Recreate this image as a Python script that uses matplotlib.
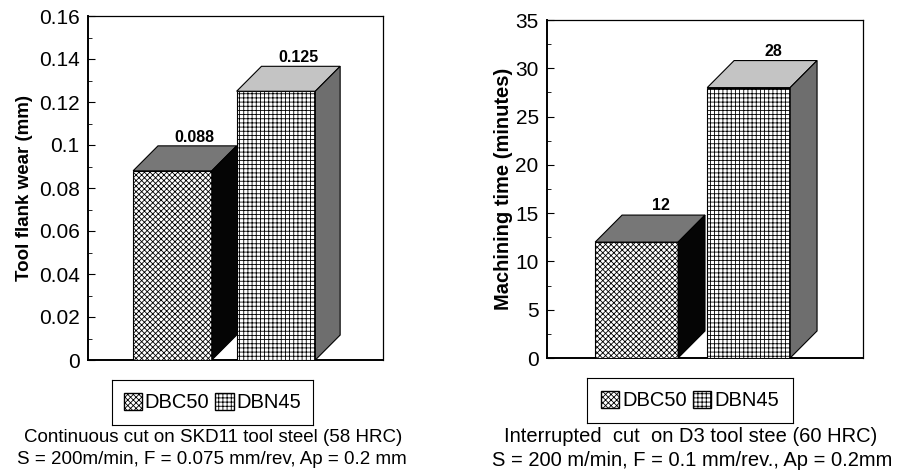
import numpy as np
import matplotlib.pyplot as plt
from matplotlib.patches import Polygon, Patch

plt.rcParams['font.family'] = ['Liberation Sans', 'DejaVu Sans']
plt.rcParams['hatch.linewidth'] = 0.6

# donnees
materials = ["DBC50", "DBN45"]
wear_mm = [0.088, 0.125]
wear_labels = ["0.088", "0.125"]
time_min = [12, 28]
time_labels = ["12", "28"]

left_ticks = [0, 0.02, 0.04, 0.06, 0.08, 0.1, 0.12, 0.14, 0.16]
left_ticklabels = ["0", "0.02", "0.04", "0.06", "0.08", "0.1", "0.12", "0.14", "0.16"]
right_ticks = [0, 5, 10, 15, 20, 25, 30, 35]

hatches = ["xxxxxx", "++++"]
top_colors = ["#777777", "#c4c4c4"]
side_colors = ["#050505", "#6e6e6e"]

W, H = 898, 472


def px_axes(fig, x0, x1, ytop, ybot):
    return fig.add_axes([x0 / W, (H - ybot) / H, (x1 - x0) / W, (ybot - ytop) / H])


def bars_3d(ax, values, labels, width, dx, dy, label_dy):
    xs = np.arange(len(values))
    for i, (x, v) in enumerate(zip(xs, values)):
        l, r = x - width / 2, x + width / 2
        ax.bar(x, v, width, color="white", edgecolor="black", hatch=hatches[i],
               linewidth=0.8, zorder=3)
        top = Polygon([(l, v), (r, v), (r + dx, v + dy), (l + dx, v + dy)],
                      closed=True, facecolor=top_colors[i], edgecolor="black",
                      linewidth=0.8, zorder=3)
        side = Polygon([(r, 0), (r + dx, dy), (r + dx, v + dy), (r, v)],
                       closed=True, facecolor=side_colors[i], edgecolor="black",
                       linewidth=0.8, zorder=3)
        ax.add_patch(top)
        ax.add_patch(side)
        ax.text(x + dx * 0.9, v + dy + label_dy, labels[i], ha="center", va="bottom",
                fontsize=11.5, fontweight="bold")


def style_axes(ax):
    ax.set_xticks([])
    ax.tick_params(axis="y", direction="in", length=5, labelsize=15, pad=6)
    ax.tick_params(axis="y", which="minor", direction="in", length=3)
    for s in ax.spines.values():
        s.set_linewidth(0.9)
    ax.spines["left"].set_linewidth(1.4)
    ax.spines["bottom"].set_linewidth(1.4)


def legend_box(fig, x0, x1, ytop, ybot):
    handles = [Patch(facecolor="white", edgecolor="black", hatch=hatches[i], label=m)
               for i, m in enumerate(materials)]
    lax = px_axes(fig, x0, x1, ytop, ybot)
    lax.set_xticks([])
    lax.set_yticks([])
    lax.patch.set_alpha(0)
    lax.legend(handles=handles, loc="center", ncol=2, frameon=False,
               fontsize=14.5, handlelength=0.9, handleheight=0.9,
               handletextpad=0.15, columnspacing=0.3)
    return lax


fig = plt.figure(figsize=(W / 100, H / 100), dpi=100)

# panneau gauche : usure
ax1 = px_axes(fig, 88, 383, 16, 360)
ax1.set_xlim(-0.816, 2.034)
ax1.set_ylim(0, 0.16)
ax1.set_yticks(left_ticks)
ax1.set_yticklabels(left_ticklabels)
ax1.set_yticks(np.arange(0.01, 0.16, 0.02), minor=True)
bars_3d(ax1, wear_mm, wear_labels, 0.76, 0.24, 0.0116, 0.0006)
style_axes(ax1)
ax1.set_ylabel("Tool flank wear (mm)", fontsize=13.5, fontweight="bold", labelpad=4)
legend_box(fig, 112, 313, 380, 425)
fig.text(213 / W, 1 - 437 / H, "Continuous cut on SKD11 tool steel (58 HRC)",
         ha="center", va="center", fontsize=13.5)
fig.text(212 / W, 1 - 460 / H, "S = 200m/min, F = 0.075 mm/rev, Ap = 0.2 mm",
         ha="center", va="center", fontsize=13.5)

# panneau droit : temps d'usinage
ax2 = px_axes(fig, 547, 863, 20, 358)
ax2.set_xlim(-0.80, 2.02)
ax2.set_ylim(0, 35)
ax2.set_yticks(right_ticks)
ax2.set_yticks(np.arange(2.5, 35, 5), minor=True)
bars_3d(ax2, time_min, time_labels, 0.74, 0.24, 2.8, 0.2)
style_axes(ax2)
ax2.set_ylabel("Machining time (minutes)", fontsize=14.5, fontweight="bold", labelpad=2)
legend_box(fig, 587, 793, 378, 423)
fig.text(691 / W, 1 - 437 / H, "Interrupted  cut  on D3 tool stee (60 HRC)",
         ha="center", va="center", fontsize=14.5)
fig.text(692 / W, 1 - 460 / H, "S = 200 m/min, F = 0.1 mm/rev., Ap = 0.2mm",
         ha="center", va="center", fontsize=14.5)

fig.savefig("out.png", dpi=100)
